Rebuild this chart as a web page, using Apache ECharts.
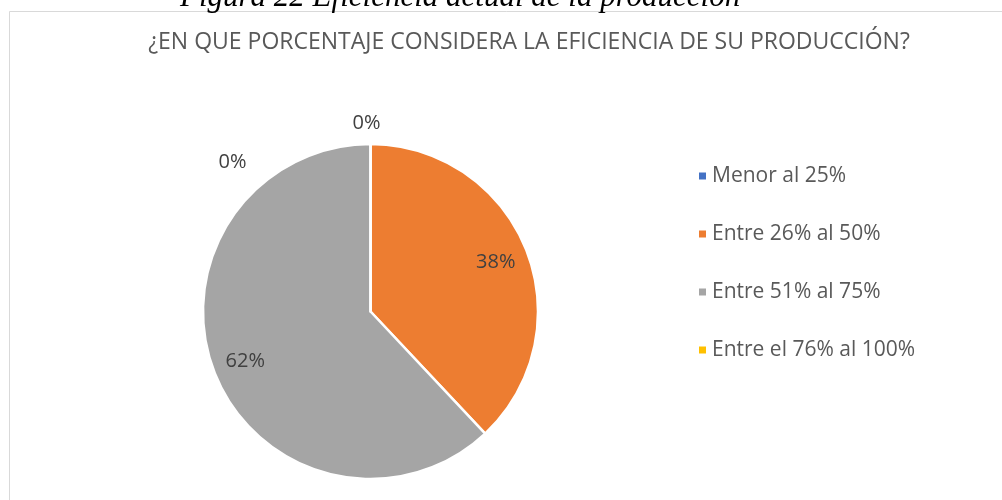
<!DOCTYPE html>
<html>
<head>
<meta charset="utf-8">
<script src="https://cdn.jsdelivr.net/npm/echarts@6/dist/echarts.min.js"></script>
<style>
html,body{margin:0;padding:0;background:#fff;}
#chart{width:1002px;height:500px;}
</style>
</head>
<body>
<div id="chart"></div>
<script>
var categories = ['Menor al 25%', 'Entre 26% al 50%', 'Entre 51% al 75%', 'Entre el 76% al 100%'];
var values = [0, 38, 62, 0];
var colors = ['#4472C4', '#ED7D31', '#A5A5A5', '#FFC000'];
var titleText = '¿EN QUE PORCENTAJE CONSIDERA LA EFICIENCIA DE SU PRODUCCIÓN?';
var captionText = 'Figura 22 Eficiencia actual de la producción';

var FONT = '"Open Sans", sans-serif';
var R = 167.5;
var CENTER = [370.5, 311.5];

var zeroOffsets = [[-4, -53], null, null, [-138, -14]];

var pieData = categories.map(function (c, i) {
  return { name: c, value: values[i], itemStyle: { color: colors[i] } };
});
var labelData = categories.map(function (c, i) {
  var d = { name: c, value: values[i] };
  if (zeroOffsets[i]) {
    d.label = { offset: zeroOffsets[i] };
  }
  return d;
});

var chart = echarts.init(document.getElementById('chart'));
chart.setOption({
  animation: false,
  backgroundColor: '#fff',
  color: colors,
  graphic: [
    { type: 'rect', silent: true, z: -1,
      shape: { x: 9.5, y: 11.5, width: 1100, height: 600 },
      style: { fill: '#fff', stroke: '#d9d9d9', lineWidth: 1 } },
    { type: 'text', silent: true,
      x: 180, y: 13,
      style: { text: captionText, font: 'italic 31px "Liberation Serif", serif', fill: '#000', textAlign: 'left', textVerticalAlign: 'bottom' } },
    { type: 'text', silent: true,
      x: 529, y: 42,
      style: { text: titleText, font: '23px ' + FONT, fill: '#595959', textAlign: 'center', textVerticalAlign: 'middle' } }
  ],
  legend: {
    orient: 'vertical',
    left: 692,
    top: 160,
    itemWidth: 9,
    itemHeight: 9,
    itemGap: 36,
    icon: 'rect',
    selectedMode: false,
    data: categories,
    textStyle: { fontFamily: FONT, fontSize: 21, color: '#595959', lineHeight: 22 }
  },
  series: [
    {
      type: 'pie',
      silent: true,
      center: CENTER,
      radius: [0, R],
      startAngle: 90,
      clockwise: true,
      stillShowZeroSum: true,
      itemStyle: { borderColor: '#fff', borderWidth: 2.5 },
      label: { show: false },
      labelLine: { show: false },
      data: pieData
    },
    {
      type: 'pie',
      silent: true,
      center: CENTER,
      radius: [96, R],
      startAngle: 90,
      clockwise: true,
      avoidLabelOverlap: false,
      itemStyle: { color: 'transparent', borderWidth: 0 },
      emphasis: { disabled: true },
      legendHoverLink: false,
      label: {
        show: true,
        position: 'inside',
        formatter: function (p) { return Math.round(p.percent) + '%'; },
        fontFamily: FONT,
        fontSize: 20,
        color: '#404040'
      },
      labelLine: { show: false },
      data: labelData
    }
  ]
});
</script>
</body>
</html>
